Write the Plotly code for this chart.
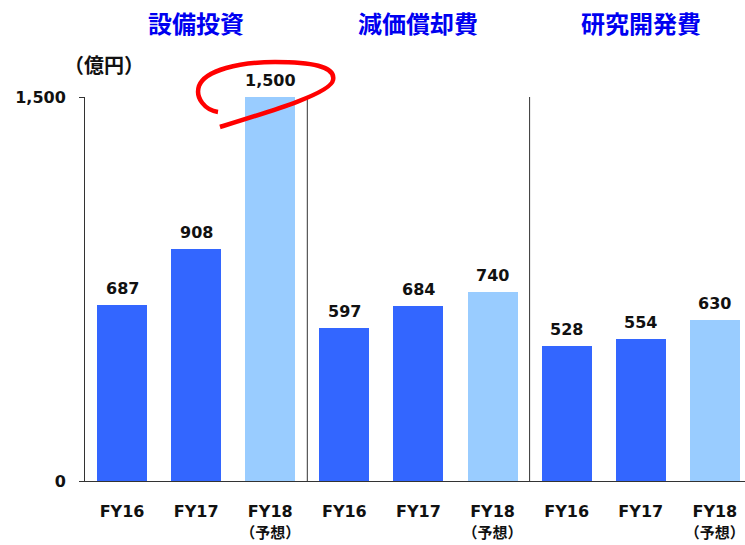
"""設備投資・減価償却費・研究開発費の推移（億円）."""
import plotly.graph_objects as go

GROUPS = ["設備投資", "減価償却費", "研究開発費"]
YEARS = ["FY16", "FY17", "FY18<br><span style='font-size:15px'>（予想）</span>"]
CAPEX = [687, 908, 1500]
DEPRECIATION = [597, 684, 740]
RND = [528, 554, 630]

DARK = "#3366FF"
LIGHT = "#99CCFF"
TITLE_BLUE = "#0000F0"
INK = "#111111"
FONT = "DejaVu Sans, Noto Sans CJK JP, sans-serif"

W, H = 745, 545
L, R, T, B = 85, 0, 97, 64
PW, PH = W - L - R, H - T - B
STEP = 74.1  # px per category
XMIN = -0.5
XMAX = XMIN + PW / STEP
YMAX = 1500

values = CAPEX + DEPRECIATION + RND
xs = list(range(len(values)))
colors = [DARK, DARK, LIGHT] * 3
ticktext = YEARS * 3


def _paper(px, py):
    return (px - L) / PW, (H - B - py) / PH


fig = go.Figure(
    go.Bar(
        x=xs, y=values, width=0.675,
        marker=dict(color=colors, line=dict(width=0)),
        hoverinfo="skip",
    )
)

# 値ラベル
for x, v in zip(xs, values):
    fig.add_annotation(x=x, y=v, xref="x", yref="y", yanchor="bottom", yshift=5,
                       text=f"<b>{v:,}</b>", showarrow=False,
                       font=dict(size=16, color=INK, family=FONT))

# 区切り線
for sep in (2.5, 5.5):
    fig.add_shape(type="line", x0=sep, x1=sep, y0=0, y1=YMAX,
                  xref="x", yref="y", line=dict(color="#333333", width=1))

# グループ見出し
for i, g in enumerate(GROUPS):
    fig.add_annotation(x=3 * i + 1, y=_paper(0, 25)[1], xref="x", yref="paper",
                       yanchor="middle", text=f"<b>{g}</b>", showarrow=False,
                       font=dict(size=24, color=TITLE_BLUE, family=FONT))

ux, uy = _paper(62, 66)
fig.add_annotation(x=ux, xref="paper", y=uy, yref="paper", yanchor="middle",
                   text="<b>（億円）</b>", showarrow=False,
                   font=dict(size=20, color=INK, family=FONT))


# 手書き風の赤丸（FY18 設備投資の 1,500 を囲む）
def _pt(px, py):
    x, y = _paper(px, py)
    return f"{x:.4f},{y:.4f}"


path = (
    f"M {_pt(218, 112)} "
    f"C {_pt(205, 110)} {_pt(195, 98)} {_pt(199, 86)} "
    f"C {_pt(205, 70)} {_pt(240, 62)} {_pt(275, 62)} "
    f"C {_pt(310, 62)} {_pt(336, 66)} {_pt(333, 80)} "
    f"C {_pt(331, 93)} {_pt(275, 110)} {_pt(220, 127)}"
)
fig.add_shape(type="path", path=path, xref="paper", yref="paper",
              line=dict(color="#FF0000", width=4.5), layer="above")

fig.update_xaxes(
    range=[XMIN, XMAX], tickvals=xs, ticktext=[f"<b>{t}</b>" for t in ticktext],
    showline=True, linecolor="#333333", linewidth=1, ticks="", showgrid=False,
    zeroline=False, tickfont=dict(size=16, color=INK, family=FONT),
    ticklabelstandoff=16, ticklabeloverflow="allow", automargin=False,
)
fig.update_yaxes(
    range=[0, YMAX], tickvals=[0, YMAX], ticktext=["<b>0</b>", "<b>1,500</b>"],
    showline=True, linecolor="#333333", linewidth=1, ticks="outside", ticklen=5,
    tickcolor="#333333", showgrid=False, zeroline=False,
    tickfont=dict(size=16, color=INK, family=FONT), ticklabelstandoff=10,
    automargin=False,
)
fig.update_layout(
    width=W, height=H, margin=dict(l=L, r=R, t=T, b=B, autoexpand=False),
    paper_bgcolor="white", plot_bgcolor="white", showlegend=False,
    bargap=0, font=dict(family=FONT),
)
# ページ既定の余白をなくして図を左上に揃える
fig.write_html("out.html", config={"displayModeBar": False},
               post_script="document.body.style.margin='0';")
